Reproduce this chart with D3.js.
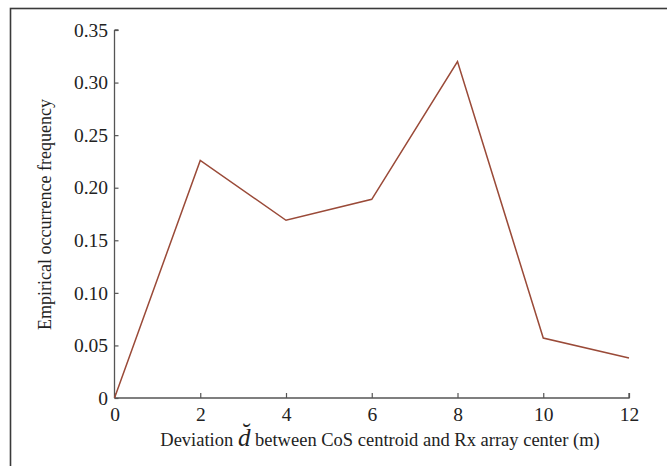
<!DOCTYPE html>
<html><head><meta charset="utf-8">
<script src="https://cdn.jsdelivr.net/npm/d3@7"></script>
<style>body{margin:0;background:#fff}svg{display:block}</style>
</head><body>
<svg id="c" width="667" height="466"></svg>
<script>
const xValues = [0, 2, 4, 6, 8, 10, 12];
const frequency = [0, 0.226, 0.169, 0.189, 0.320, 0.057, 0.038];
const yTicks = [0, 0.05, 0.10, 0.15, 0.20, 0.25, 0.30, 0.35];
const xTicks = [0, 2, 4, 6, 8, 10, 12];

const svg = d3.select("#c");
const font = "'Liberation Serif', 'Times New Roman', serif";
// outer frame
svg.append("rect").attr("x", 10.5).attr("y", 8.5).attr("width", 700).attr("height", 500)
  .attr("fill", "none").attr("stroke", "#3a3a3a").attr("stroke-width", 1.6);

const x = d3.scaleLinear().domain([0, 12]).range([114.5, 629]);
const y = d3.scaleLinear().domain([0, 0.35]).range([398, 30]);

const yAxis = d3.axisLeft(y).tickValues(yTicks).tickSizeInner(-4).tickSizeOuter(0).tickPadding(6.5)
  .tickFormat(d => d === 0 ? "0" : d3.format(".2f")(d));
const gy = svg.append("g").attr("transform", `translate(${x(0)},0)`).call(yAxis);
const xAxis = d3.axisBottom(x).tickValues(xTicks).tickSizeInner(-5).tickSizeOuter(0).tickPadding(9);
const gx = svg.append("g").attr("transform", `translate(0,${y(0)})`).call(xAxis);
[gy, gx].forEach(g => {
  g.attr("font-size", null).attr("font-family", null);
  g.select(".domain").attr("stroke", "#555").attr("stroke-width", 1.3);
  g.selectAll(".tick line").attr("stroke", "#555").attr("stroke-width", 1.2);
  g.selectAll("text").attr("fill", "#222").style("font-family", font).style("font-size", "19.5px");
});
// top tick cap on y axis
gy.select(".domain").attr("d", `M0,${y(0.35)}H4M0,${y(0.35)}V${y(0)}`);
gx.select(".domain").attr("d", `M${x(0)},0H${x(12)}V-5`);

svg.append("path").datum(xValues.map((v, i) => [v, frequency[i]]))
  .attr("fill", "none").attr("stroke", "#9a4a38").attr("stroke-width", 1.5)
  .attr("d", d3.line().x(d => x(d[0])).y(d => y(d[1])));

svg.append("text").attr("transform", `translate(51,214.5) rotate(-90)`)
  .attr("text-anchor", "middle").style("font-family", font).style("font-size", "18px").attr("fill", "#222")
  .text("Empirical occurrence frequency");

const xl = svg.append("text").attr("x", 380).attr("y", 446).attr("text-anchor", "middle")
  .style("font-family", font).style("font-size", "18.5px").attr("fill", "#222");
xl.append("tspan").text("Deviation ");
xl.append("tspan").style("font-style", "italic").style("font-size", "25px").text("d\u0306");
xl.append("tspan").text(" between CoS centroid and Rx array center (m)");
</script>
</body></html>
